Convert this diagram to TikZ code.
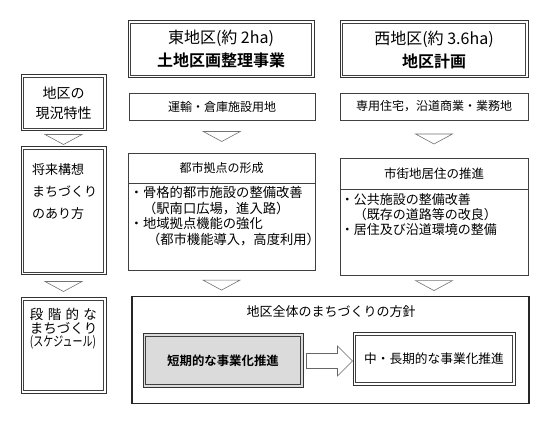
\documentclass[tikz,border=0pt]{standalone}
\usepackage{fontspec}
\usepackage{graphicx}
\setmainfont{Noto Sans CJK JP}[BoldFont={Noto Sans CJK JP Bold}]
\usetikzlibrary{calc,positioning}
\tikzstyle{every node}+=[inner sep=0pt,text=black]
\tikzstyle{dbox}=[draw=black!80,line width=1pt]
\tikzstyle{dline}=[draw=black!75,line width=0.6pt]
\tikzstyle{dshade}=[draw=black!80,line width=1pt]
\tikzstyle{sbox}=[draw=black!75,line width=0.8pt]
\tikzstyle{bigbox}=[draw=black!85,line width=1.4pt]
\tikzstyle{vee}=[draw=black!55,line width=0.6pt,fill=white]
\tikzstyle{fatarrow}=[draw=black!60,line width=0.6pt,fill=white,line join=miter]

\begin{document}
\begin{tikzpicture}[x=1pt,y=-1pt]
\useasboundingbox (0,0) rectangle (552,422);

\node[dbox,minimum width=186pt,minimum height=57pt,align=center,font=\fontsize{16pt}{23pt}\selectfont] (easthd) at (221,49.5) {東地区(約 2ha)\\{\bfseries 土地区画整理事業}};
\node[dbox,minimum width=188pt,minimum height=57pt,align=center,font=\fontsize{16pt}{23pt}\selectfont] (westhd) at (434,49.5) {西地区(約 3.6ha)\\{\bfseries 地区計画}};

\node[dbox,minimum width=85pt,minimum height=56pt,align=center,font=\fontsize{14pt}{20pt}\selectfont] (now) at (63.5,103) {地区の\\現況特性};
\node[sbox,minimum width=186pt,minimum height=27pt,font=\fontsize{12pt}{14pt}\selectfont] (eastuse) at (222,106.5) {運輸・倉庫施設用地};
\node[sbox,minimum width=188pt,minimum height=27pt,font=\fontsize{12pt}{14pt}\selectfont] (westuse) at (434,106.5) {専用住宅，沿道商業・業務地};

\node[dbox,minimum width=85pt,minimum height=128pt] (vision) at (63.5,211) {};
\node[anchor=north,align=left,font=\fontsize{13pt}{22pt}\selectfont] (visiontxt) at ($(vision.north)+(1,17)$) {将来構想\\まちづくり\\のあり方};

\node[sbox,minimum width=187pt,minimum height=117pt] (eastbox) at (221.5,211.5) {};
\node[anchor=north,minimum height=30pt,font=\fontsize{12pt}{14pt}\selectfont] (easttl) at (eastbox.north) {都市拠点の形成};
\draw[sbox] (eastbox.west |- easttl.south) -- (eastbox.east |- easttl.south);
\node[anchor=north west,align=left,font=\fontsize{13.3pt}{15.4pt}\selectfont] (eastbody) at ($(eastbox.west |- easttl.south)+(2,3.5)$) {・骨格的都市施設の整備改善\\\hspace*{1em}（駅南口広場，進入路）\\・地域拠点機能の強化\\\hspace*{1.3em}（都市機能導入，高度利用）};

\node[sbox,minimum width=188pt,minimum height=117pt] (westbox) at (434,216.5) {};
\node[anchor=north,minimum height=31pt,font=\fontsize{12.5pt}{14pt}\selectfont] (westtl) at (westbox.north) {市街地居住の推進};
\draw[sbox] (westbox.west |- westtl.south) -- (westbox.east |- westtl.south);
\node[anchor=north west,align=left,font=\fontsize{13pt}{15pt}\selectfont] (westbody) at ($(westbox.west |- westtl.south)+(1,4.5)$) {・公共施設の整備改善\\\hspace*{1em}（既存の道路等の改良）\\・居住及び沿道環境の整備};

\node[dbox,minimum width=85pt,minimum height=95pt] (steps) at (63.5,345.5) {};
\node[anchor=north,align=left,font=\fontsize{13.5pt}{13.5pt}\selectfont] (stepstxt) at ($(steps.north)+(0,10.5)$) {\makebox[67pt][s]{段\hfill 階\hfill 的\hfill な}\\\makebox[67pt][s]{ま\hfill ち\hfill づ\hfill く\hfill り}\\\resizebox{66pt}{\height}{(スケジュール)}};

\node[bigbox,minimum width=397pt,minimum height=107pt] (policy) at (330.5,350) {};
\node[font=\fontsize{13pt}{15pt}\selectfont] (policyttl) at (331,312) {地区全体のまちづくりの方針};
\node[dbox,fill=black!14,minimum width=160pt,minimum height=53pt,font=\fontsize{12.4pt}{14pt}\selectfont\bfseries] (short) at (223,360.5) {短期的な事業化推進};
\node[dbox,minimum width=162pt,minimum height=52pt,font=\fontsize{12.7pt}{14pt}\selectfont] (long) at (434,359) {中・長期的な事業化推進};

\foreach \n in {easthd,westhd,now,vision,steps,short,long}{
  \draw[dline] ($(\n.north west)+(3,3)$) rectangle ($(\n.south east)+(-3,-3)$);
  \draw[dshade] ($(\n.south west)+(0.5,-0.5)$) -- ($(\n.south east)+(-0.5,-0.5)$) -- ($(\n.north east)+(-0.5,0.5)$);
}

\draw[fatarrow] ($(short.east)+(3,-7)$) -- ++(31,0) -- ++(0,-7.5) -- ++(15,15) -- ++(-15,15) -- ++(0,-7.5) -- ++(-31,0) -- cycle;

\draw[vee] ($(now.south)!0.5!(vision.north)$) ++(-18.5,-4.5) -- ++(37,0) -- ++(-18.5,10) -- cycle;
\draw[vee] ($(eastuse.south)!0.5!(eastbox.north)$) ++(-18.5,-5) -- ++(37,0) -- ++(-18.5,10) -- cycle;
\draw[vee] ($(westuse.south)!0.5!(westbox.north)$) ++(-18.5,-5) -- ++(37,0) -- ++(-18.5,10) -- cycle;
\draw[vee] ($(vision.south)!0.5!(steps.north)$) ++(-18.5,-5) -- ++(37,0) -- ++(-18.5,10) -- cycle;
\draw[vee] ($(eastbox.south)!0.5!(eastbox.south |- policy.north)$) ++(-18.5,-3) -- ++(37,0) -- ++(-18.5,10) -- cycle;
\draw[vee] ($(westbox.south)!0.5!(westbox.south |- policy.north)$) ++(-18.5,-5) -- ++(37,0) -- ++(-18.5,10) -- cycle;
\end{tikzpicture}
\end{document}
